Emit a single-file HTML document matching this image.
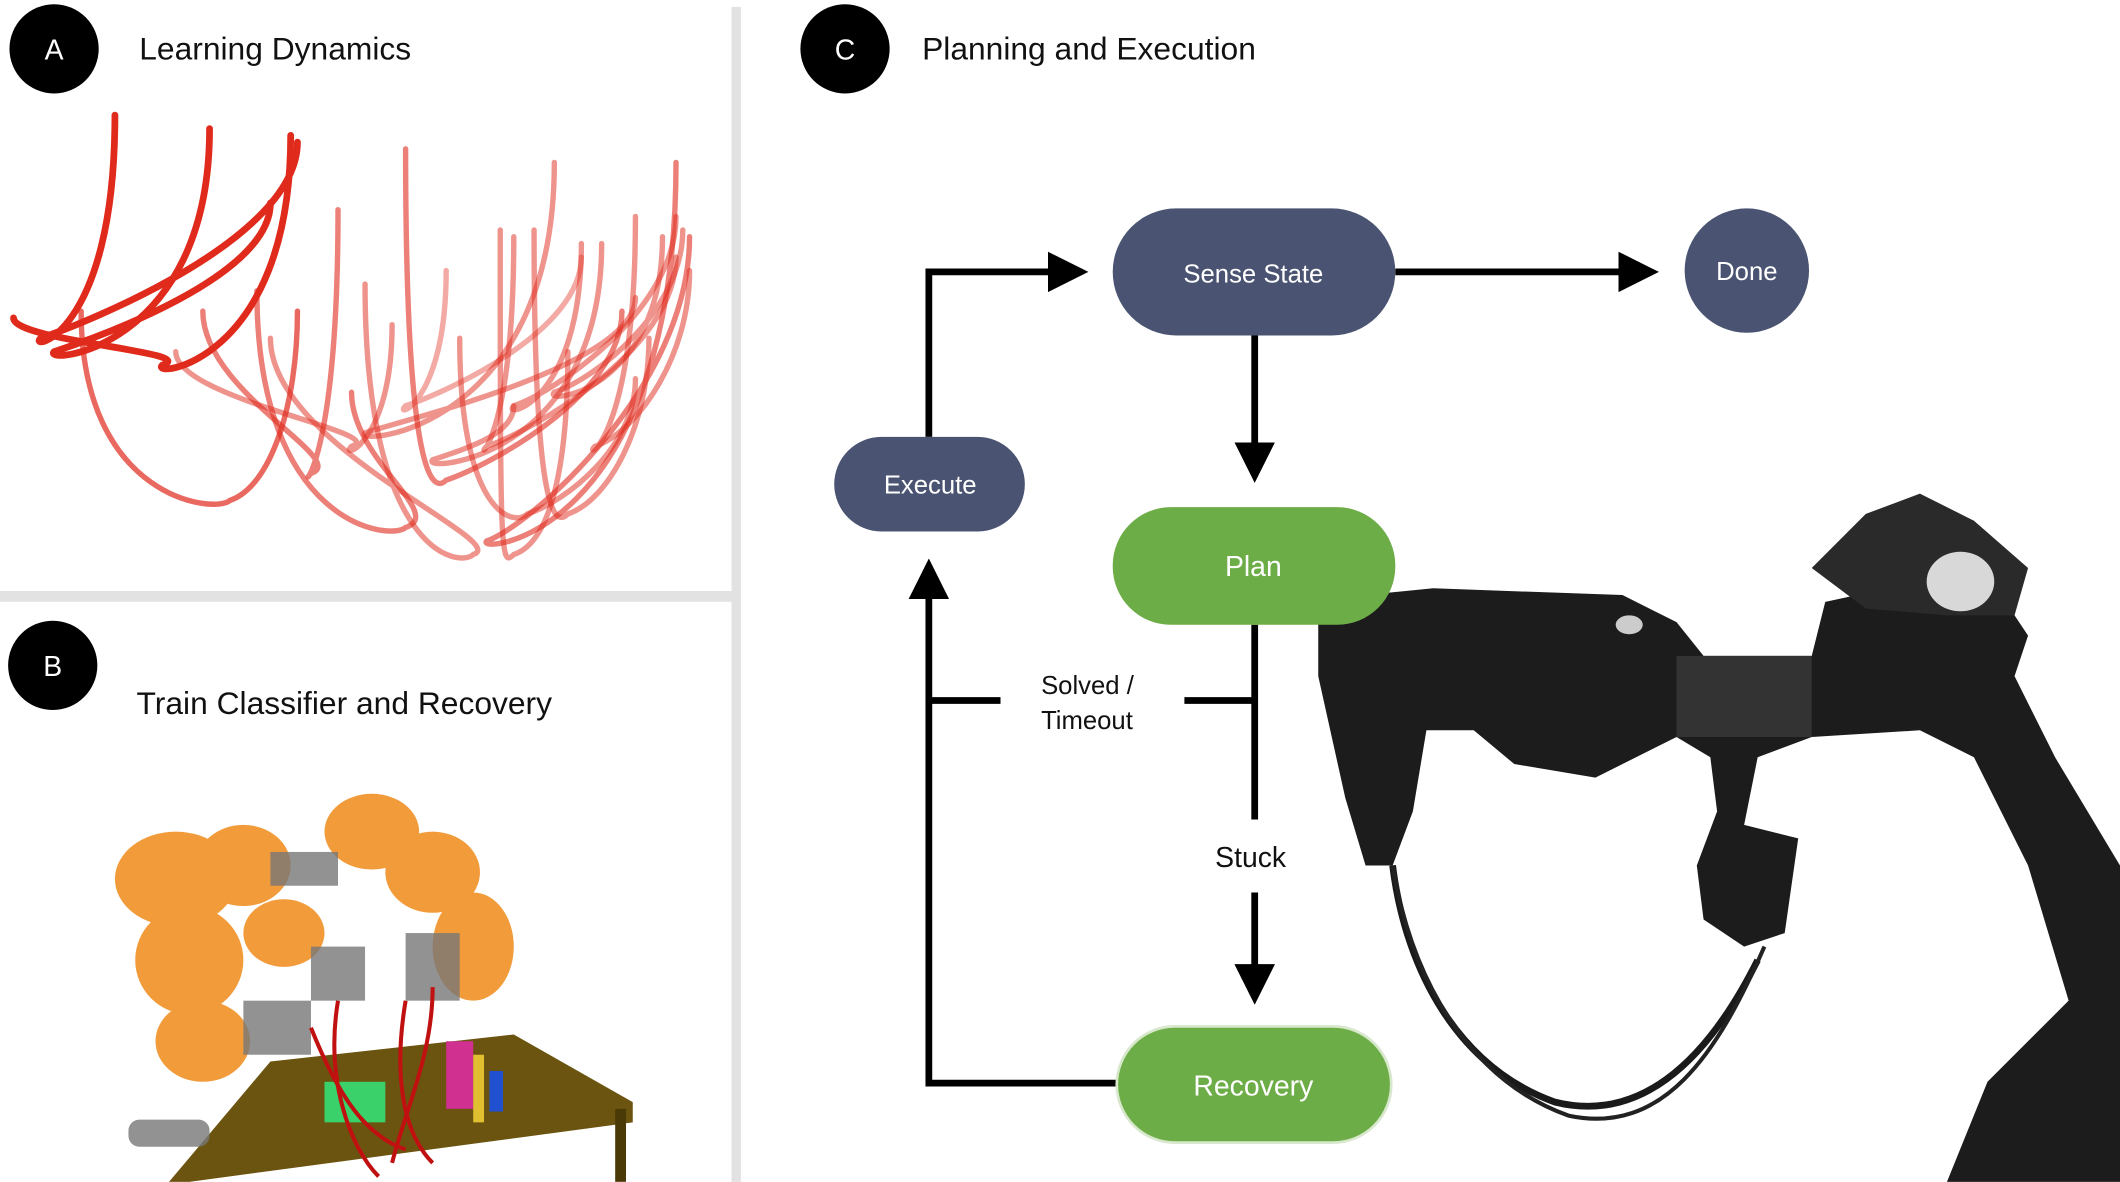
<!DOCTYPE html>
<html><head><meta charset="utf-8"><style>
html,body{margin:0;padding:0;background:#fff;}
svg{display:block;}
text{font-family:"Liberation Sans","DejaVu Sans",sans-serif;}
</style></head><body>
<svg width="2120" height="1182" viewBox="0 0 1568 874" xmlns="http://www.w3.org/2000/svg">
<defs>
<marker id="ah" markerWidth="6" markerHeight="6" refX="5" refY="3" orient="auto" markerUnits="strokeWidth">
<path d="M0,0 L6,3 L0,6 Z" fill="#000"/></marker>
</defs>
<rect x="541" y="5" width="7" height="869" fill="#e2e2e2"/>
<rect x="0" y="437" width="541" height="8" fill="#e2e2e2"/>

<g>
<circle cx="40" cy="36" r="33" fill="#000"/><text x="40" y="44" fill="#fff" font-size="21" text-anchor="middle">A</text>
<text x="103" y="44" font-size="23.5" fill="#111">Learning Dynamics</text></g>
<g>
<circle cx="39" cy="492" r="33" fill="#000"/><text x="39" y="500" fill="#fff" font-size="21" text-anchor="middle">B</text>
<text x="101" y="528" font-size="23.5" fill="#111">Train Classifier and Recovery</text></g>
<g>
<circle cx="625" cy="36" r="33" fill="#000"/><text x="625" y="44" fill="#fff" font-size="21" text-anchor="middle">C</text>
<text x="682" y="44" font-size="23.5" fill="#111">Planning and Execution</text></g>

<g id="curvesA" fill="none" stroke="#e02a1c" stroke-linecap="round"></g>

<g>
<polygon points="200,785 380,765 468,815 468,830 140,874 125,874" fill="#6b5410"/>
<rect x="455" y="820" width="8" height="54" fill="#4a3a08"/>
<g fill="#f08a18" opacity="0.85">
<ellipse cx="130" cy="650" rx="45" ry="35"/><ellipse cx="140" cy="710" rx="40" ry="40"/>
<ellipse cx="180" cy="640" rx="35" ry="30"/><ellipse cx="150" cy="770" rx="35" ry="30"/>
<ellipse cx="275" cy="615" rx="35" ry="28"/><ellipse cx="320" cy="645" rx="35" ry="30"/>
<ellipse cx="350" cy="700" rx="30" ry="40"/><ellipse cx="210" cy="690" rx="30" ry="25"/>
</g>
<g fill="#777" opacity="0.8">
<rect x="200" y="630" width="50" height="25"/><rect x="230" y="700" width="40" height="40"/>
<rect x="300" y="690" width="40" height="50"/><rect x="180" y="740" width="50" height="40"/>
<rect x="95" y="828" width="60" height="20" rx="8"/>
</g>
<rect x="240" y="800" width="45" height="30" fill="#3ad06a"/>
<rect x="330" y="770" width="20" height="50" fill="#d03090"/>
<rect x="350" y="780" width="8" height="50" fill="#e0c030"/>
<rect x="362" y="792" width="10" height="30" fill="#2050d0"/>
<g fill="none" stroke="#c01010" stroke-width="3">
<path d="M250,740 C240,800 260,850 280,870"/><path d="M300,740 C290,800 300,840 320,860"/>
<path d="M320,730 C320,780 300,820 290,860"/><path d="M230,760 C250,810 270,840 300,850"/>
</g>
</g>

<g>
<path d="M975,450 L1010,440 L1060,435 L1200,440 L1240,460 L1260,485 L1340,485 L1350,445 L1420,430 L1480,440 L1500,470 L1490,500 L1520,560 L1568,640 L1568,874 L1440,874 L1470,800 L1530,740 L1500,640 L1460,560 L1420,540 L1340,545 L1300,560 L1290,610 L1330,620 L1320,690 L1290,700 L1260,680 L1255,640 L1270,600 L1265,560 L1240,545 L1180,575 L1120,565 L1090,540 L1055,540 L1045,600 L1030,640 L1010,640 L995,590 L975,500 Z" fill="#1c1c1c"/>
<path d="M1340,420 L1380,380 L1420,365 L1460,385 L1500,420 L1490,455 L1440,455 L1380,450 Z" fill="#2a2a2a"/>
<ellipse cx="1450" cy="430" rx="25" ry="22" fill="#d8d8d8"/>
<rect x="1240" y="485" width="100" height="60" fill="#333"/>
<path d="M1030,640 C1040,720 1080,790 1150,815 C1210,830 1260,790 1300,710" fill="none" stroke="#1a1a1a" stroke-width="5"/>
<path d="M1030,640 C1045,730 1090,800 1160,825 C1230,840 1270,780 1305,700" fill="none" stroke="#222" stroke-width="3"/>
<ellipse cx="1205" cy="462" rx="10" ry="7" fill="#ccc"/>
</g>

<g stroke="#000" stroke-width="5" fill="none">
<line x1="1032" y1="201" x2="1222" y2="201" marker-end="url(#ah)"/>
<line x1="928" y1="248" x2="928" y2="352" marker-end="url(#ah)"/>
<line x1="928" y1="462" x2="928" y2="606"/>
<line x1="928" y1="660" x2="928" y2="738" marker-end="url(#ah)"/>
<polyline points="826,801 687,801 687,418" marker-end="url(#ah)"/>
<polyline points="687,323 687,201 800,201" marker-end="url(#ah)"/>
<line x1="687" y1="518" x2="740" y2="518"/>
<line x1="876" y1="518" x2="928" y2="518"/>
</g>

<g><rect x="823" y="154" width="209" height="94" rx="47" fill="#4a5472"/>
<text x="927" y="209" fill="#fff" font-size="19" text-anchor="middle">Sense State</text></g>
<g><circle cx="1292" cy="200" r="46" fill="#4a5472"/>
<text x="1292" y="207" fill="#fff" font-size="19" text-anchor="middle">Done</text></g>
<g><rect x="617" y="323" width="141" height="70" rx="35" fill="#4a5472"/>
<text x="688" y="365" fill="#fff" font-size="19" text-anchor="middle">Execute</text></g>
<g><rect x="823" y="375" width="209" height="87" rx="43" fill="#6dad47"/>
<text x="927" y="426" fill="#fff" font-size="21" text-anchor="middle">Plan</text></g>
<g><rect x="826" y="759" width="203" height="86" rx="43" fill="#6dad47" stroke="#d8e8cc" stroke-width="2"/>
<text x="927" y="810" fill="#fff" font-size="21" text-anchor="middle">Recovery</text></g>

<text x="770" y="513" font-size="19" fill="#111">Solved /</text>
<text x="770" y="539" font-size="19" fill="#111">Timeout</text>
<text x="925" y="641" font-size="21" fill="#111" text-anchor="middle">Stuck</text>

<script>
const curveStartX = [85,155,60,250,190,270,300,370,410,445,500,215,340,395,470,330,380,430,490,290];
const curveStartY = [85,95,230,155,215,210,110,170,120,180,120,100,250,170,160,200,175,180,175,240];
const curveBottomX = [30,40,170,230,300,350,330,380,270,320,360,120,390,420,440,300,360,380,410,260];
const curveBottomY = [250,260,370,350,390,410,355,410,320,340,400,270,380,380,330,300,330,300,290,330];
const curveEndX = [220,200,220,150,260,200,460,420,470,380,510,10,470,480,510,430,500,500,505,130];
const curveEndY = [105,150,230,230,290,250,230,260,220,300,175,235,280,250,200,190,190,160,170,260];
const curveOpacity = [1,1,0.7,0.6,0.6,0.5,0.6,0.5,0.5,0.5,0.6,1,0.5,0.5,0.5,0.4,0.5,0.5,0.5,0.5];
const g = document.getElementById('curvesA');
for (let i = 0; i < curveStartX.length; i++) {
  const p = document.createElementNS('http://www.w3.org/2000/svg','path');
  const sx = curveStartX[i], sy = curveStartY[i], bx = curveBottomX[i], by = curveBottomY[i], ex = curveEndX[i], ey = curveEndY[i];
  p.setAttribute('d', `M${sx},${sy} C${sx},${by} ${bx-10},${by+10} ${bx},${by} C${bx+30},${by-10} ${ex},${(ey+by)/2} ${ex},${ey}`);
  p.setAttribute('stroke-width', i < 2 || i === 11 ? 5 : 4);
  p.setAttribute('opacity', curveOpacity[i]);
  
  
  g.appendChild(p);
}
</script>
</svg>
</body></html>
